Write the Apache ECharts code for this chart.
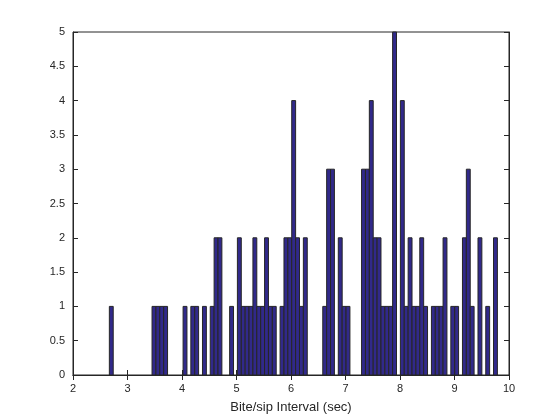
<!DOCTYPE html>
<html>
<head>
<meta charset="utf-8">
<script src="https://cdn.jsdelivr.net/npm/echarts@6/dist/echarts.min.js"></script>
<style>html,body{margin:0;padding:0;background:#fff}#c{width:560px;height:420px}</style>
</head>
<body>
<div id="c"></div>
<script>
var chart = echarts.init(document.getElementById('c'));

// histogram: 100 bins starting at binStart, width binWidth
var binStart = 2.667;
var binWidth = 0.0712;
var counts = [
  1,0,0,0,0,0,0,0,0,0,
  0,1,1,1,1,0,0,0,0,1,
  0,1,1,0,1,0,1,2,2,0,
  0,1,0,2,1,1,1,2,1,1,
  2,1,1,0,1,2,2,4,2,1,
  2,0,0,0,0,1,3,3,0,2,
  1,1,0,0,0,3,3,4,2,2,
  1,1,1,5,0,4,1,2,1,1,
  2,1,0,1,1,1,2,0,1,1,
  0,2,3,1,0,2,0,1,0,2
];

var bars = [];
for (var i = 0; i < counts.length; i++) {
    if (counts[i] > 0) {
        bars.push([binStart + i * binWidth, binStart + (i + 1) * binWidth, counts[i]]);
    }
}

var axisFont = { fontFamily: 'Liberation Sans', fontSize: 11, color: '#262626' };
var lineStyle = { color: '#262626', width: 1 };

option = {
    animation: false,
    grid: { left: 73, right: 51, top: 32, bottom: 45, show: true, borderColor: '#262626', borderWidth: 1 },
    xAxis: [{
        type: 'value', min: 2, max: 10, interval: 1,
        name: 'Bite/sip Interval (sec)', nameLocation: 'middle', nameGap: 26,
        nameTextStyle: { fontFamily: 'Liberation Sans', fontSize: 13, color: '#262626' },
        axisLine: { show: true, lineStyle: lineStyle },
        axisTick: { inside: true, length: 5, lineStyle: lineStyle },
        axisLabel: axisFont,
        splitLine: { show: false }
    }, {
        type: 'value', position: 'top', min: 2, max: 10, interval: 1,
        axisLine: { show: true, lineStyle: lineStyle },
        axisTick: { inside: true, length: 5, lineStyle: lineStyle },
        axisLabel: { show: false }, splitLine: { show: false }
    }],
    yAxis: [{
        type: 'value', min: 0, max: 5, interval: 0.5,
        axisLine: { show: true, lineStyle: lineStyle },
        axisTick: { inside: true, length: 5, lineStyle: lineStyle },
        axisLabel: axisFont,
        splitLine: { show: false }
    }, {
        type: 'value', position: 'right', min: 0, max: 5, interval: 0.5,
        axisLine: { show: true, lineStyle: lineStyle },
        axisTick: { inside: true, length: 5, lineStyle: lineStyle },
        axisLabel: { show: false }, splitLine: { show: false }
    }],
    series: [{
        type: 'custom',
        data: bars,
        encode: { x: [0, 1], y: 2 },
        renderItem: function (params, api) {
            var p0 = api.coord([api.value(0), api.value(2)]);
            var p1 = api.coord([api.value(1), 0]);
            return {
                type: 'rect',
                shape: { x: p0[0], y: p0[1], width: p1[0] - p0[0], height: p1[1] - p0[1] },
                style: { fill: '#31298a', stroke: '#262626', lineWidth: 1 }
            };
        }
    }]
};

chart.setOption(option);
</script>
</body>
</html>
